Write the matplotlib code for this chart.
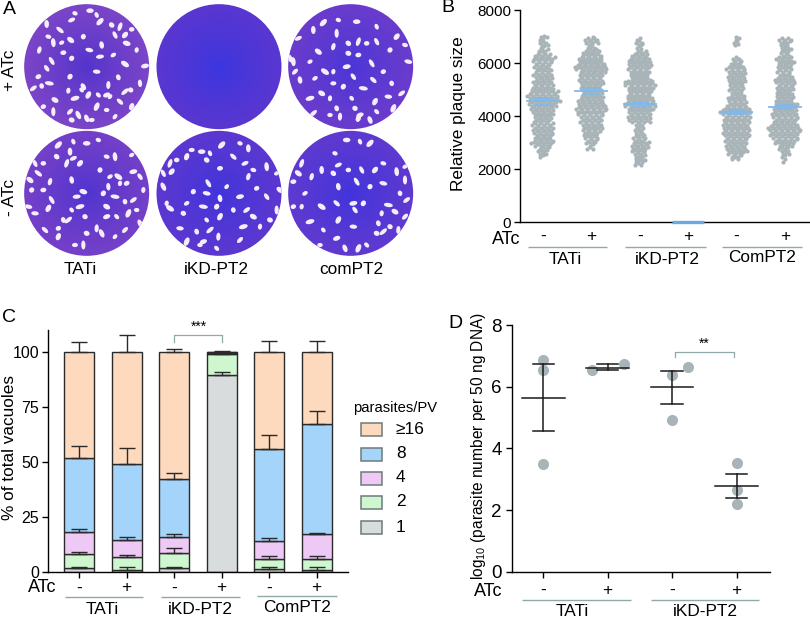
import numpy as np
import matplotlib
matplotlib.use("Agg")
import matplotlib.pyplot as plt
from matplotlib.patches import Circle, Ellipse, Rectangle

plt.rcParams['font.family'] = ['Liberation Sans', 'DejaVu Sans']
plt.rcParams['mathtext.default'] = 'regular'

W, H = 810, 618

# panel B, points per level, levels step 100
b_start = [2500, 2800, 2200, 2400, 2300]
b_counts = [
    [2,3,4,4,6,8,7,6,6,7,7,7,8,6,6,6,7,8,8,9,10,11,10,11,10,8,7,7,7,6,6,7,6,5,6,6,7,8,6,3,4,2,3,3,2,3],
    [3,2,4,4,5,5,6,6,7,7,8,7,8,9,10,11,9,9,9,8,7,7,7,7,8,8,8,8,8,9,11,11,9,8,8,7,6,5,3,2,5,5,1],
    [3,4,3,4,4,5,6,6,6,4,5,3,3,3,3,3,7,8,8,7,8,9,11,10,9,9,8,8,8,9,11,10,7,6,6,7,8,8,8,7,7,6,4,2,2,2,3,2],
    [3,4,6,7,7,7,7,8,8,9,9,9,9,9,9,9,9,10,11,9,7,6,6,6,5,4,5,5,5,6,6,6,6,6,7,5,4,3,3,0,0,0,0,2,2,2,1],
    [1,1,2,3,3,4,5,7,8,9,10,10,11,11,9,8,8,9,9,8,8,8,7,6,6,6,5,6,6,6,7,7,5,4,5,5,5,6,5,6,3,3,4,3,3,4,5],
]
b_pos = [0, 1, 2, 4, 5]
b_means = [4550, 4940, 4440, 0, 4140, 4350]
b_sem = [130, 120, 90, 0, 70, 80]
b_ticks = [0, 2000, 4000, 6000, 8000]
signs = ['-', '+', '-', '+', '-', '+']

# panel C, cumulative tops of each stack and error bar tops
c_names = ['1', '2', '4', '8', '≥16']
c_colors = ['#d9dcdc', '#cff7cf', '#eec9f5', '#a5d4fa', '#fdd9bd']
c_tops = [
    [1.5, 1, 1.5, 89.5, 1.2, 1],
    [8, 6.5, 8.5, 99, 5.7, 5.7],
    [18, 14.5, 16, 99.4, 14, 17],
    [51.5, 49, 42, 99.8, 56, 67],
    [100, 100, 100, 100, 100, 100],
]
c_err = [
    [2.2, 2, 2.2, 91, 2, 2.2],
    [9, 7.5, 10.7, np.nan, 7, 7],
    [19.3, 15.7, 17, np.nan, 15.3, 17.5],
    [57, 56.3, 45, np.nan, 62, 73],
    [104.5, 107.5, 101.3, 100.5, 104.7, 104.7],
]

# panel D
d_x = [0, 0, 0, 0.75, 1.25, 2, 2.25, 2, 3, 3, 3]
d_y = [6.88, 6.55, 3.5, 6.55, 6.72, 6.38, 6.63, 4.93, 3.52, 2.65, 2.2]
d_mean = [5.63, 6.62, 6.0, 2.78]
d_hi = [6.72, 6.72, 6.52, 3.17]
d_lo = [4.55, 6.55, 5.45, 2.4]

# panel A, plaques read in 3x crop pixels
dishes = [
    (260, 200, '#7b45c8', '#5233cc'),
    (657, 200, '#5a36d0', '#3a36e0'),
    (1052, 200, '#6a3ccc', '#4a36d8'),
    (260, 580, '#7440c8', '#4f34d0'),
    (657, 580, '#5c38d0', '#4034dc'),
    (1052, 580, '#5f3ad0', '#4034dc'),
]
plaques = [
    [(270,32),(290,45),(300,65),(225,40),(140,72),(215,60),(335,75),(360,80),(395,88),(345,105),(375,105),(145,110),(160,128),(185,128),(212,120),(118,150),(190,158),(155,183),(215,175),(268,150),(305,135),(340,165),(375,192),(410,150),(435,198),(140,205),(210,230),(148,250),(125,258),(100,265),(165,300),(205,272),(225,295),(245,270),(265,285),(290,215),(355,232),(375,275),(392,270),(325,255),(320,285),(295,285),(290,320),(320,330),(260,355),(210,335),(215,360),(160,335),(130,320),(360,305),(395,320),(275,360),(235,345),(330,290),(380,130),(420,250),(115,230),(180,90),(250,110),(300,170),(250,260),(345,350)],
    [],
    [(1070,65),(1130,80),(970,68),(1015,60),(940,90),(895,115),(1045,130),(1075,125),(1100,130),(1130,125),(1190,110),(1215,135),(880,185),(930,185),(955,155),(1000,140),(1075,165),(1115,190),(1170,150),(1225,185),(900,240),(945,235),(975,215),(1000,215),(1040,200),(1060,230),(1030,260),(1090,265),(1175,250),(1205,280),(965,280),(990,295),(930,295),(1055,295),(1125,305),(1165,290),(1010,325),(940,340),(1065,325),(1020,350),(1080,345),(1130,335),(1180,325),(990,345),(1110,360),(885,215),(1045,160),(1010,100),(1150,215),(1120,240),(1075,355),(1000,250),(870,175)],
    [(260,430),(220,425),(175,435),(295,420),(210,455),(220,475),(170,470),(200,490),(130,490),(105,490),(240,490),(320,470),(345,470),(395,465),(90,540),(150,545),(130,570),(155,600),(95,570),(85,620),(215,540),(330,530),(355,530),(360,550),(400,515),(420,530),(310,580),(345,590),(375,605),(400,600),(320,620),(430,570),(240,620),(215,630),(145,625),(105,640),(190,660),(205,660),(255,650),(290,685),(320,650),(350,650),(385,640),(410,630),(420,670),(375,690),(260,700),(250,735),(175,685),(135,690),(175,710),(225,735),(305,700),(345,710),(250,575),(325,560),(380,550),(115,520),(300,510),(230,590)],
    [(605,455),(630,460),(665,435),(720,430),(745,445),(735,490),(620,480),(510,490),(530,480),(490,520),(515,515),(760,510),(800,500),(830,520),(840,570),(745,530),(660,505),(625,550),(580,575),(620,580),(660,595),(560,610),(510,625),(500,610),(720,590),(800,590),(650,620),(610,620),(700,630),(740,630),(760,650),(780,680),(730,680),(620,660),(660,650),(540,685),(590,695),(630,690),(550,640),(655,710),(610,725),(650,745),(560,725),(600,735),(520,720),(720,720),(810,660),(830,630),(770,565),(700,470),(560,470),(575,450),(490,560),(680,560)],
    [(1040,420),(1080,425),(1110,430),(1005,460),(965,510),(1015,495),(1000,520),(905,490),(1045,510),(1085,510),(1125,510),(1150,490),(1190,515),(1215,500),(895,520),(935,530),(880,545),(1070,545),(1110,560),(1150,550),(1015,560),(915,580),(965,620),(905,620),(1060,610),(1065,630),(1090,610),(1165,615),(1200,580),(1220,600),(1185,635),(1145,640),(930,665),(970,690),(1015,660),(1060,680),(1135,670),(1150,695),(1170,680),(1195,690),(1010,715),(1100,735),(1075,745),(960,735),(1035,745),(1215,650),(1130,700),(1215,540),(880,620),(1010,610)],
]

FS = 12.4
GREY = '#8fa8a8'
DARK = '#1a1a1a'
POINT = '#a8b4b8'


def px_axes(left, top, right, bottom):
    ax = fig.add_axes([left / W, 1 - bottom / H, (right - left) / W, (bottom - top) / H])
    ax.patch.set_alpha(0)
    ax.spines[['top', 'right']].set_visible(False)
    ax.spines[['left', 'bottom']].set_linewidth(1.0)
    ax.tick_params(labelsize=11, width=1.0, length=4.3, pad=2)
    return ax


fig = plt.figure(figsize=(W / 100, H / 100), dpi=100)

# overlay in pixels for free text and panel A
over = fig.add_axes([0, 0, 1, 1])
over.set_xlim(0, W)
over.set_ylim(H, 0)
over.axis('off')


def txt(x, y, s, size=FS, ha='center', va='center', **kw):
    over.text(x, y, s, fontsize=size, ha=ha, va=va, **kw)


def gline(x0, x1, y):
    over.plot([x0, x1], [y, y], color=GREY, lw=1.0, solid_capstyle='butt')


# panel A
yy, xx = np.mgrid[-1:1:80j, -1:1:80j]
rr = np.clip(np.hypot(xx, yy), 0, 1)
for (cx, cy, edge, mid), spots in zip(dishes, plaques):
    cx, cy = cx / 3, cy / 3
    c0 = np.array(matplotlib.colors.to_rgb(mid))
    c1 = np.array(matplotlib.colors.to_rgb(edge))
    grad = c0 + (c1 - c0) * (rr[..., None] ** 0.8)
    im = over.imshow(grad, extent=[cx - 63, cx + 63, cy + 63, cy - 63], zorder=1, interpolation='bilinear')
    disc = Circle((cx, cy), 62.5, transform=over.transData)
    im.set_clip_path(disc)
    for i, (px, py) in enumerate(spots):
        w = [7.5, 6, 9, 5.5, 8][i % 5]
        h = [4.6, 4, 5, 4.2][i % 4]
        e = Ellipse((px / 3, py / 3), w, h, angle=(i * 67) % 180, color='#f4edf8', lw=0, zorder=2)
        over.add_patch(e)
        e.set_clip_path(disc)
over.set_xlim(0, W)
over.set_ylim(H, 0)

txt(9, 9, 'A', size=14)
txt(10, 70, '+ ATc', rotation=90)
txt(10, 197, '- ATc', rotation=90)
txt(80, 269, 'TATi')
txt(216, 269, 'iKD-PT2')
txt(351, 270, 'comPT2')

# panel B
axb = px_axes(520, 10, 810, 222)
axb.set_xlim(-0.475, 5.52)
axb.set_ylim(0, 8000)
for p, start, counts in zip(b_pos, b_start, b_counts):
    xs, ys = [], []
    for k, n in enumerate(counts):
        # shift rows so the dots do not line up in stripes
        shift = ((k * 0.618) % 1 - 0.5) * 0.07
        for j in range(n):
            xs.append(p + (j - (n - 1) / 2) * 0.062 + shift)
            ys.append(start + k * 100 + (35 if j % 2 else -35))
    axb.scatter(xs, ys, s=9, color=POINT, lw=0, zorder=2, clip_on=False)
for p, m, s in zip(range(6), b_means, b_sem):
    if m == 0:
        axb.plot([p - 0.33, p + 0.33], [m, m], color='#6ea8e0', lw=2.4, solid_capstyle='butt',
                 zorder=4, clip_on=False)
        continue
    axb.plot([p - 0.33, p + 0.33], [m, m], color='#7db9ee', lw=1.3, zorder=3)
    axb.plot([p - 0.17, p + 0.17], [m + s, m + s], color='#7db9ee', lw=1.1, zorder=3)
    axb.plot([p - 0.17, p + 0.17], [m - s, m - s], color='#7db9ee', lw=1.1, zorder=3)
axb.set_yticks(b_ticks)
axb.set_xticks(range(6), signs, fontsize=FS)
axb.tick_params(axis='x', length=0, pad=5)
txt(458, 114, 'Relative plaque size', rotation=90)
txt(448, 8, 'B', size=14)
txt(520, 239, 'ATc', size=13, ha='right')
gline(528, 607, 247)
gline(625, 706, 247)
gline(722, 802, 246.5)
txt(565, 259, 'TATi')
txt(667, 259, 'iKD-PT2')
txt(762, 258, 'ComPT2')

# panel C
axc = px_axes(47.7, 330, 348, 571.7)
axc.set_xlim(-0.659, 5.66)
axc.set_ylim(0, 109.9)
x = np.arange(6)
prev = np.zeros(6)
for tops, col, err in zip(c_tops, c_colors, c_err):
    tops = np.array(tops, dtype=float)
    axc.bar(x, tops - prev, bottom=prev, width=0.63, color=col, edgecolor='#2a2a2a', lw=1.0, zorder=2)
    err = np.array(err, dtype=float)
    axc.errorbar(x, tops, yerr=[np.zeros(6), err - tops], fmt='none', ecolor='#2a2a2a',
                 elinewidth=1.0, capsize=5.6, capthick=1.0, zorder=3, clip_on=False)
    prev = tops
axc.plot([2, 2, 3, 3], [104.5, 107.6, 107.6, 104.5], color=GREY, lw=0.9, clip_on=False)
axc.set_yticks([0, 25, 50, 75, 100])
axc.set_xticks(x, signs, fontsize=FS)
axc.tick_params(axis='y', labelsize=11.5)
axc.tick_params(axis='x', pad=2)
txt(9.5, 448, '% of total vacuoles', rotation=90)
txt(9, 317, 'C', size=14)
txt(199, 327, '***', size=10)
txt(56, 588, 'ATc', size=13, ha='right')
gline(65, 143, 597)
gline(161, 240, 597)
gline(257, 337, 596)
txt(102, 609, 'TATi')
txt(200, 609, 'iKD-PT2')
txt(297, 608, 'ComPT2')
txt(353, 408, 'parasites/PV', size=10.6, ha='left')
for name, col, ry in zip(c_names, c_colors, [527, 502, 478, 454, 429]):
    over.add_patch(Rectangle((361, ry - 6.5), 21, 13, facecolor=col, edgecolor='#6d7a7a', lw=1.1))
    txt(396, ry, name, ha='left')

# panel D
axd = px_axes(511.7, 325, 770, 571.7)
axd.set_xlim(-0.49, 3.52)
axd.set_ylim(0, 8)
axd.scatter(d_x, d_y, s=64, color=POINT, lw=0, zorder=2, clip_on=False)
for p, m, hi, lo in zip(range(4), d_mean, d_hi, d_lo):
    hw = 0.33
    axd.plot([p - hw, p + hw], [m, m], color=DARK, lw=1.1, zorder=3)
    axd.plot([p, p], [lo, hi], color=DARK, lw=1.1, zorder=3)
    axd.plot([p - 0.165, p + 0.165], [hi, hi], color=DARK, lw=1.1, zorder=3)
    axd.plot([p - 0.165, p + 0.165], [lo, lo], color=DARK, lw=1.1, zorder=3)
axd.plot([2.05, 2.05, 2.96, 2.96], [6.95, 7.13, 7.13, 6.95], color=GREY, lw=0.9, clip_on=False)
axd.set_yticks([0, 2, 4, 6, 8])
axd.set_xticks(range(4), signs[:4], fontsize=FS)
axd.tick_params(axis='y', labelsize=13.5, pad=3)
axd.tick_params(axis='x', pad=4)
txt(478, 446, 'log$_{10}$ (parasite number per 50 ng DNA)', size=11.2, rotation=90)
txt(455, 323, 'D', size=14)
txt(704, 344, '**', size=10)
txt(502, 591, 'ATc', size=13, ha='right')
gline(522, 631, 599.5)
gline(651, 759, 599.5)
txt(572, 612, 'TATi')
txt(705, 612, 'iKD-PT2')

fig.savefig('out.png', dpi=100)
